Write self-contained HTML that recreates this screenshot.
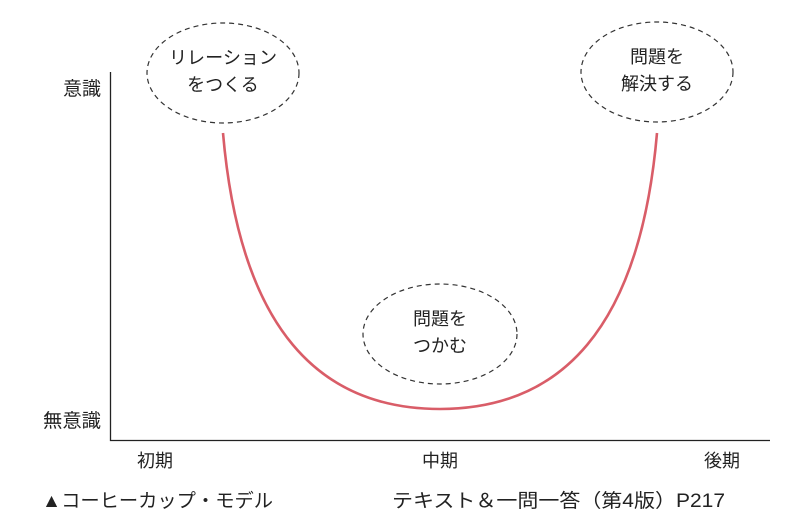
<!DOCTYPE html>
<html><head><meta charset="utf-8"><style>
html,body{margin:0;padding:0;background:#fff;}
svg{display:block;}
text{font-family:"Liberation Sans","Noto Sans CJK JP",sans-serif;fill:#222;}
</style></head><body>
<svg width="792" height="530" viewBox="0 0 792 530" xmlns="http://www.w3.org/2000/svg">
<path d="M110.5 72 V440.5 H770" fill="none" stroke="#222" stroke-width="1.3"/>
<path d="M223 133 C 240 330, 320 409, 440 409 C 560 409, 640 330, 657 133" fill="none" stroke="#d95d68" stroke-width="2.6"/>
<g fill="none" stroke="#333" stroke-width="1.2" stroke-dasharray="5,4">
<ellipse cx="223" cy="73" rx="76" ry="50"/>
<ellipse cx="657" cy="72" rx="76" ry="50"/>
<ellipse cx="440" cy="334" rx="77" ry="50"/>
</g>
<g font-size="18" text-anchor="middle">
<text x="223" y="64" textLength="108" lengthAdjust="spacingAndGlyphs">リレーション</text>
<text x="223" y="91">をつくる</text>
<text x="657" y="63">問題を</text>
<text x="657" y="90">解決する</text>
<text x="440" y="325">問題を</text>
<text x="440" y="352">つかむ</text>
<text x="155" y="467">初期</text>
<text x="440" y="467">中期</text>
<text x="722" y="467">後期</text>
</g>
<g font-size="19">
<text x="63" y="95">意識</text>
<text x="43" y="427" textLength="58" lengthAdjust="spacingAndGlyphs">無意識</text>
<text x="42" y="507" textLength="231" lengthAdjust="spacingAndGlyphs">▲コーヒーカップ・モデル</text>
<text x="392" y="507" textLength="333" lengthAdjust="spacingAndGlyphs">テキスト＆一問一答（第4版）P217</text>
</g>
</svg>
</body></html>
